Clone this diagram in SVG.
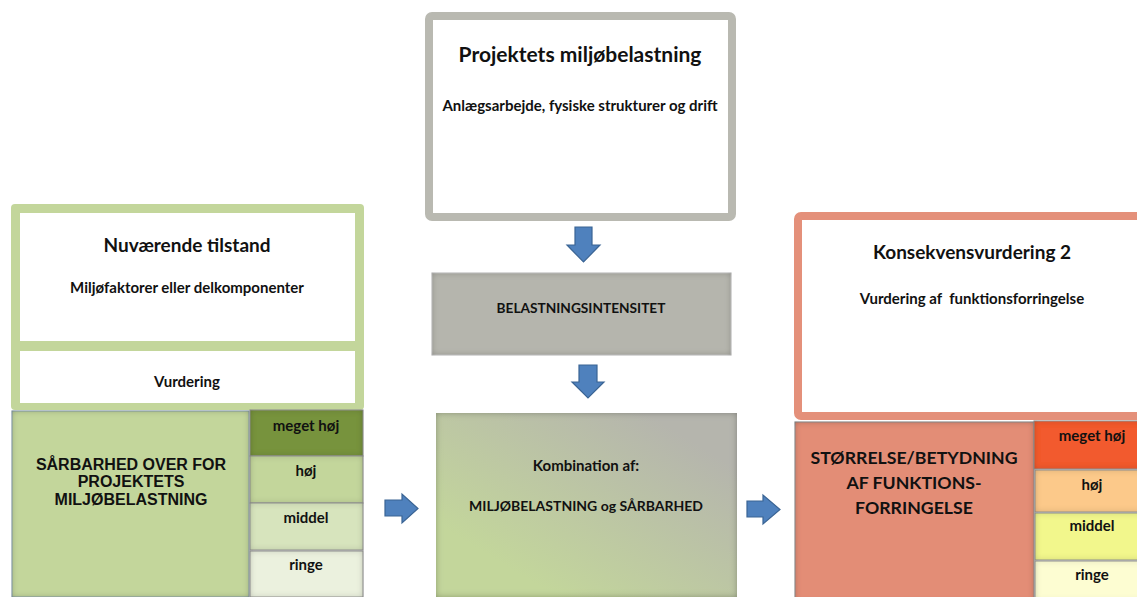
<svg xmlns="http://www.w3.org/2000/svg" width="1137" height="597" viewBox="0 0 1137 597">
<defs>
<filter id="inset" x="-5%" y="-5%" width="110%" height="110%">
<feFlood flood-color="#000" flood-opacity="0.55"/>
<feComposite in2="SourceAlpha" operator="out"/>
<feGaussianBlur stdDeviation="3"/>
<feComposite in2="SourceAlpha" operator="in"/>
<feMerge><feMergeNode in="SourceGraphic"/><feMergeNode/></feMerge>
</filter>
<linearGradient id="combo" x1="0" y1="1" x2="1" y2="0">
<stop offset="0.2" stop-color="#c3d69b"/>
<stop offset="0.85" stop-color="#b5b5ad"/>
</linearGradient>
<style>
text{font-family:Lato,"Open Sans","Liberation Sans",sans-serif;font-weight:bold;fill:#111;text-anchor:middle}
.cap{font-family:"Liberation Sans",Arial,sans-serif}
.t1{font-size:19px}
.t2{font-size:15px}
.lv{font-size:15px}
.arrow{fill:#4f81bd;stroke:#3a6494;stroke-width:1.2}
.lvbox{stroke:#9a9a9a;stroke-width:1}
</style>
</defs>

<g id="projektets-miljobelastning">
<rect x="429" y="16" width="303" height="201" rx="3" fill="#fff" stroke="#b9b9b1" stroke-width="8"/>
<text class="t1" x="580" y="62" style="font-size:21px">Projektets miljøbelastning</text>
<text class="t2" x="580" y="111">Anlægsarbejde, fysiske strukturer og drift</text>
</g>

<g id="nuvaerende-tilstand">
<rect x="11" y="204" width="353" height="206" rx="4" fill="#c3d69b"/>
<rect x="20" y="213" width="335" height="128" fill="#fff"/>
<rect x="20" y="351" width="335" height="52" fill="#fff"/>
<text class="t1" x="187" y="252">Nuværende tilstand</text>
<text class="t2" x="187" y="293">Miljøfaktorer eller delkomponenter</text>
<text class="t2" x="187" y="387">Vurdering</text>
</g>

<g id="sarbarhed">
<rect x="12" y="411" width="237" height="186" fill="#c3d69b" stroke="#8fa7b8" stroke-width="1" filter="url(#inset)"/>
<text class="cap" x="131" y="470" style="font-size:16px">SÅRBARHED OVER FOR</text>
<text class="cap" x="131" y="487" style="font-size:16px">PROJEKTETS</text>
<text class="cap" x="131" y="505" style="font-size:16px">MILJØBELASTNING</text>
</g>

<g id="sarbarhed-levels">
<rect class="lvbox" x="250" y="410" width="113" height="46" fill="#77933c" filter="url(#inset)"/>
<rect class="lvbox" x="250" y="456" width="113" height="47" fill="#c3d69b" filter="url(#inset)"/>
<rect class="lvbox" x="250" y="503" width="113" height="47" fill="#d7e4bd" filter="url(#inset)"/>
<rect class="lvbox" x="250" y="551" width="113" height="46" fill="#ebf1de" filter="url(#inset)"/>
<text class="lv" x="306" y="431">meget høj</text>
<text class="lv" x="306" y="476">høj</text>
<text class="lv" x="306" y="523">middel</text>
<text class="lv" x="306" y="570">ringe</text>
</g>

<g id="belastningsintensitet">
<rect x="432" y="273" width="299" height="82" fill="#b5b5ad" stroke="#d0d0d0" stroke-width="1" filter="url(#inset)"/>
<text x="581" y="313" style="font-size:13.7px">BELASTNINGSINTENSITET</text>
</g>

<g id="kombination">
<rect x="436" y="413" width="301" height="184" fill="url(#combo)" filter="url(#inset)"/>
<text class="t2" x="586" y="471">Kombination af:</text>
<text class="t2" x="586" y="511" style="font-size:14px">MILJØBELASTNING og SÅRBARHED</text>
</g>

<g id="konsekvensvurdering">
<rect x="798" y="216" width="350" height="200" rx="3" fill="#fff" stroke="#e4907a" stroke-width="8"/>
<text class="t1" x="972" y="259">Konsekvensvurdering 2</text>
<text class="t2" x="972" y="304" xml:space="preserve">Vurdering af  funktionsforringelse</text>
</g>

<g id="storrelse">
<rect x="795" y="422" width="239" height="180" fill="#e38d76" stroke="#999" stroke-width="1" filter="url(#inset)"/>
<text x="914" y="464" style="font-size:17.7px">STØRRELSE/BETYDNING</text>
<text x="914" y="489" style="font-size:17.7px">AF FUNKTIONS-</text>
<text x="914" y="514" style="font-size:17.7px">FORRINGELSE</text>
</g>

<g id="storrelse-levels">
<rect class="lvbox" x="1034" y="421" width="110" height="48" fill="#f25a2e" filter="url(#inset)"/>
<rect class="lvbox" x="1035" y="470" width="110" height="42" fill="#fcc98a" filter="url(#inset)"/>
<rect class="lvbox" x="1035" y="513" width="110" height="47" fill="#f2f78c" filter="url(#inset)"/>
<rect class="lvbox" x="1035" y="561" width="110" height="40" fill="#fdfdd2" filter="url(#inset)"/>
<text class="lv" x="1092" y="441">meget høj</text>
<text class="lv" x="1092" y="490">høj</text>
<text class="lv" x="1092" y="531">middel</text>
<text class="lv" x="1092" y="580">ringe</text>
</g>

<g id="connectors">
<path class="arrow" d="M575,227 H592 V245 H600 L583.5,262 L567,245 H575 Z"/>
<path class="arrow" d="M579,365 H597 V382 H604 L588,398 L572,382 H579 Z"/>
<path class="arrow" d="M385,500 H402 V494 L418,508.5 L402,523 V516 H385 Z"/>
<path class="arrow" d="M747,501 H763 V495 L780,509.5 L763,524 V517 H747 Z"/>
</g>
</svg>
